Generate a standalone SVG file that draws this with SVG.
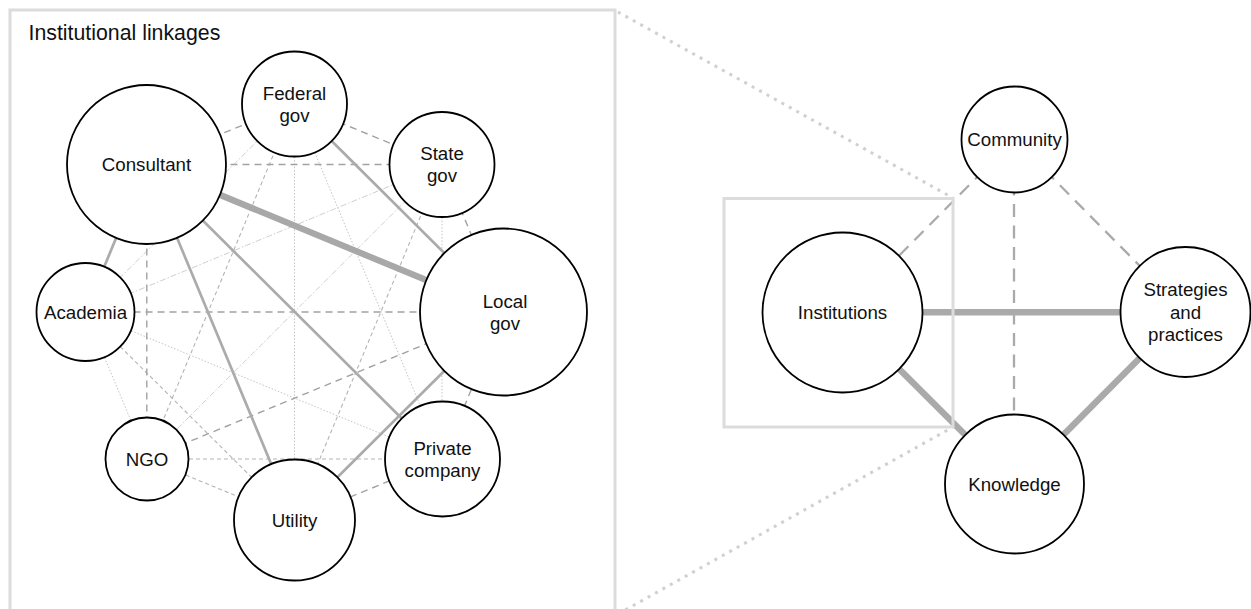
<svg xmlns="http://www.w3.org/2000/svg" width="1251" height="609" viewBox="0 0 1251 609">
<style>
.frame{fill:none;stroke:#dcdcdc;stroke-width:3}
.zoomline{fill:none;stroke:#d0d0d0;stroke-width:3;stroke-dasharray:3 5.5}
.node circle{fill:#fff;stroke:#000;stroke-width:1.8}
.node text{font-family:"Liberation Sans",Arial,sans-serif;font-size:18.7px;fill:#111;text-anchor:middle}
.title{font-family:"Liberation Sans",Arial,sans-serif;font-size:21.3px;fill:#111}
.thick{stroke:#a8a8a8;stroke-width:6.3;fill:none}
.solid{stroke:#ababab;stroke-width:2.7;fill:none}
.dash{stroke:#a2a2a2;stroke-width:1.4;stroke-dasharray:7 5;fill:none}
.sdash{stroke:#b4b4b4;stroke-width:1.1;stroke-dasharray:4 3;fill:none}
.dot{stroke:#c4c4c4;stroke-width:1;stroke-dasharray:1.5 1.8;fill:none}
.faint{stroke:#cfcfcf;stroke-width:1;stroke-dasharray:6 2 1.5 2;fill:none}
.rthick{stroke:#aaaaaa;stroke-width:6.5;fill:none}
.rdash{stroke:#aaaaaa;stroke-width:2.3;stroke-dasharray:13 8.5;fill:none}
</style>
<rect x="0" y="0" width="1251" height="609" fill="#fff"/>

<!-- left frame and zoom lines -->
<rect class="frame" x="10" y="10" width="605" height="606"/>
<line class="zoomline" x1="618" y1="12" x2="953" y2="198"/>
<line class="zoomline" x1="618" y1="614" x2="953" y2="427"/>

<text class="title" x="28.5" y="39.5">Institutional linkages</text>

<!-- left connectors -->
<g id="left-connectors">
  <line class="faint" x1="442" y1="164.5" x2="85.5" y2="312"/>
  <line class="faint" x1="294.5" y1="104" x2="85.5" y2="312"/>
  <line class="faint" x1="442" y1="164.5" x2="147" y2="459"/>
  <line class="dot" x1="294.5" y1="104" x2="294.5" y2="520"/>
  <line class="dot" x1="294.5" y1="104" x2="442.5" y2="459"/>
  <line class="dot" x1="442" y1="164.5" x2="442" y2="459"/>
  <line class="dot" x1="85.5" y1="312" x2="442.5" y2="459"/>
  <line class="dot" x1="85.5" y1="312" x2="147" y2="459"/>
  <line class="sdash" x1="85.5" y1="312" x2="294.5" y2="520"/>
  <line class="sdash" x1="147" y1="459" x2="442.5" y2="459"/>
  <line class="sdash" x1="147" y1="459" x2="294.5" y2="520"/>
  <line class="sdash" x1="442" y1="164.5" x2="294.5" y2="520"/>
  <line class="sdash" x1="294.5" y1="104" x2="147" y2="459"/>
  <line class="dash" x1="146.5" y1="164.5" x2="294.5" y2="104"/>
  <line class="dash" x1="146.5" y1="164.5" x2="442" y2="164.5"/>
  <line class="dash" x1="146.8" y1="164.5" x2="146.8" y2="459"/>
  <line class="dash" x1="85.5" y1="312" x2="503.5" y2="312"/>
  <line class="dash" x1="294.5" y1="104" x2="442" y2="164.5"/>
  <line class="dash" x1="442" y1="164.5" x2="503.5" y2="312"/>
  <line class="dash" x1="147" y1="459" x2="503.5" y2="312"/>
  <line class="dash" x1="503.5" y1="312" x2="442.5" y2="459"/>
  <line class="dash" x1="294.5" y1="520" x2="442.5" y2="459"/>
  <line class="solid" x1="294.5" y1="104" x2="503.5" y2="312"/>
  <line class="solid" x1="146.5" y1="164.5" x2="85.5" y2="312"/>
  <line class="solid" x1="146.5" y1="164.5" x2="294.5" y2="520"/>
  <line class="solid" x1="146.5" y1="164.5" x2="442.5" y2="459"/>
  <line class="solid" x1="294.5" y1="520" x2="503.5" y2="312"/>
  <line class="thick" x1="146.5" y1="164.5" x2="503.5" y2="312"/>
</g>

<!-- left nodes -->
<g id="federal-gov" class="node"><circle cx="294.5" cy="104" r="52.5"/><text x="294.5" y="99.5">Federal</text><text x="294.5" y="121.7">gov</text></g>
<g id="state-gov" class="node"><circle cx="442" cy="164.5" r="52.5"/><text x="442" y="160">State</text><text x="442" y="182.2">gov</text></g>
<g id="local-gov" class="node"><circle cx="503.5" cy="312" r="83.5"/><text x="505" y="307.5">Local</text><text x="505" y="329.7">gov</text></g>
<g id="private-company" class="node"><circle cx="442.5" cy="459" r="57.5"/><text x="442.5" y="454.5">Private</text><text x="442.5" y="476.7">company</text></g>
<g id="utility" class="node"><circle cx="294.5" cy="520" r="60.5"/><text x="294.5" y="526.5">Utility</text></g>
<g id="ngo" class="node"><circle cx="147" cy="459" r="41.5"/><text x="147" y="466">NGO</text></g>
<g id="academia" class="node"><circle cx="85.5" cy="312" r="49"/><text x="85.5" y="318.5">Academia</text></g>
<g id="consultant" class="node"><circle cx="146.5" cy="164.5" r="79.5"/><text x="146.5" y="171">Consultant</text></g>

<!-- right connectors -->
<g id="right-connectors">
  <line class="rdash" x1="1014.5" y1="139.5" x2="842.5" y2="312.5"/>
  <line class="rdash" x1="1014.5" y1="139.5" x2="1185.5" y2="312"/>
  <line class="rdash" x1="1014" y1="139.5" x2="1014" y2="484"/>
  <line class="rthick" x1="842.5" y1="312.3" x2="1185.5" y2="312.3"/>
  <line class="rthick" x1="842.5" y1="312.5" x2="1014.5" y2="484"/>
  <line class="rthick" x1="1185.5" y1="312" x2="1014.5" y2="484"/>
</g>

<!-- zoom rectangle -->
<rect class="frame" x="724" y="198.5" width="229" height="228.5"/>

<!-- right nodes -->
<g id="community" class="node"><circle cx="1014.5" cy="139.5" r="53"/><text x="1014.5" y="146">Community</text></g>
<g id="institutions" class="node"><circle cx="842.5" cy="312.5" r="80"/><text x="842.5" y="319">Institutions</text></g>
<g id="strategies" class="node"><circle cx="1185.5" cy="312" r="65"/><text x="1185.5" y="296.3">Strategies</text><text x="1185.5" y="318.6">and</text><text x="1185.5" y="340.9">practices</text></g>
<g id="knowledge" class="node"><circle cx="1014.5" cy="484" r="69.5"/><text x="1014.5" y="490.5">Knowledge</text></g>
</svg>
